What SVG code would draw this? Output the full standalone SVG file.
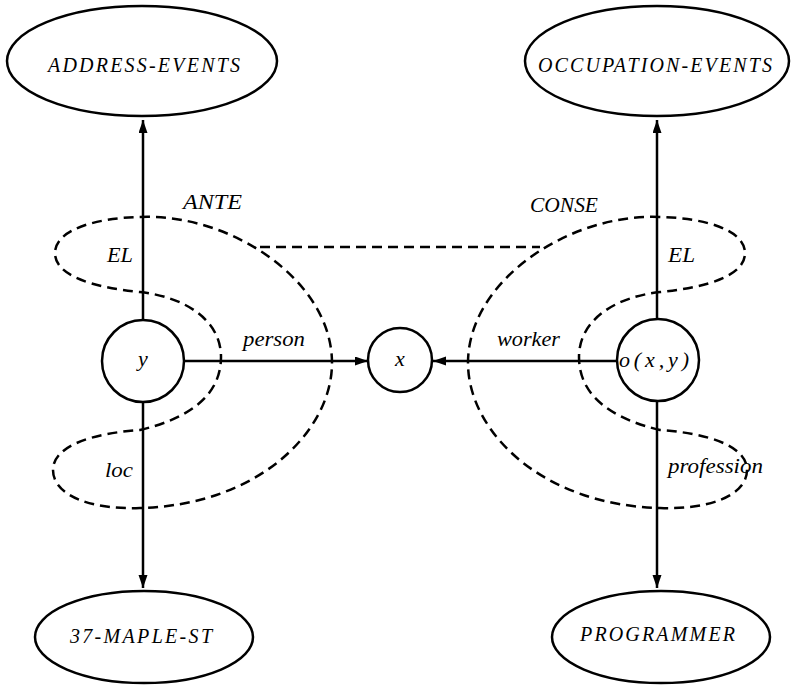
<svg xmlns="http://www.w3.org/2000/svg" width="792" height="687" viewBox="0 0 792 687">
  <style>
    .node { fill: #fff; stroke: #000; stroke-width: 2.5; }
    .edge { fill: none; stroke: #000; stroke-width: 2.5; }
    .scope { fill: none; stroke: #000; stroke-width: 2.5; stroke-dasharray: 10 6; }
    text { font-family: "Liberation Serif", "Times New Roman", serif; font-style: italic; fill: #000; }
    .big { font-size: 20px; }
    .lbl { font-size: 22px; }
  </style>
  <defs>
    <marker id="arrow" markerUnits="userSpaceOnUse" markerWidth="14" markerHeight="10" refX="13" refY="4.5" orient="auto">
      <path d="M0,0 L13,4.5 L0,9 Z" fill="#000"/>
    </marker>
  </defs>

  <!-- connectors -->
  <g id="connectors">
    <path class="edge" d="M143,320 L143,120" marker-end="url(#arrow)"/>
    <path class="edge" d="M143,402 L143,588" marker-end="url(#arrow)"/>
    <path class="edge" d="M184,361 L368,361" marker-end="url(#arrow)"/>
    <path class="edge" d="M616,361 L433,361" marker-end="url(#arrow)"/>
    <path class="edge" d="M657,319 L657,120" marker-end="url(#arrow)"/>
    <path class="edge" d="M657,401 L657,588" marker-end="url(#arrow)"/>
    <text class="lbl" x="243" y="346" textLength="62" lengthAdjust="spacingAndGlyphs">person</text>
    <text class="lbl" x="497" y="346" textLength="63" lengthAdjust="spacingAndGlyphs">worker</text>
    <text class="lbl" x="107" y="262" textLength="26" lengthAdjust="spacingAndGlyphs">EL</text>
    <text class="lbl" x="105" y="477" textLength="28" lengthAdjust="spacingAndGlyphs">loc</text>
    <text class="lbl" x="668" y="262" textLength="27" lengthAdjust="spacingAndGlyphs">EL</text>
    <text class="lbl" x="668" y="473" textLength="95" lengthAdjust="spacingAndGlyphs">profession</text>
  </g>

  <!-- dashed scope outlines -->
  <g id="ante">
    <path id="scope-shape" class="scope" d="M140,217 C230,213 332,280 332,363 C332,430 260,505 140,508 C90,510 53,495 53,470 C53,445 95,433 140,430 C190,418 221,395 221,357 C221,320 185,297 140,292 C90,287 55,275 55,253 C55,230 95,218 140,217 Z"/>
    <text class="lbl" x="183" y="209" textLength="59" lengthAdjust="spacingAndGlyphs">ANTE</text>
  </g>
  <g id="conse">
    <use href="#scope-shape" transform="translate(800,0) scale(-1,1)"/>
    <text class="lbl" x="530" y="212" textLength="68" lengthAdjust="spacingAndGlyphs">CONSE</text>
  </g>
  <g id="ante-conse-link">
    <path class="scope" d="M260,247 L540,247"/>
  </g>

  <!-- nodes -->
  <g id="address-events">
    <ellipse class="node" cx="142" cy="61" rx="135" ry="55"/>
    <text class="big" x="48" y="72" textLength="192" lengthAdjust="spacing">ADDRESS-EVENTS</text>
  </g>
  <g id="occupation-events">
    <ellipse class="node" cx="657" cy="61" rx="132" ry="55"/>
    <text class="big" x="538" y="72" textLength="234" lengthAdjust="spacing">OCCUPATION-EVENTS</text>
  </g>
  <g id="maple-st">
    <ellipse class="node" cx="144" cy="637" rx="109" ry="46"/>
    <text class="big" x="70" y="643" textLength="142" lengthAdjust="spacing">37-MAPLE-ST</text>
  </g>
  <g id="programmer">
    <ellipse class="node" cx="661" cy="637" rx="109" ry="46"/>
    <text class="big" x="580" y="641" textLength="155" lengthAdjust="spacing">PROGRAMMER</text>
  </g>
  <g id="node-y">
    <circle class="node" cx="143" cy="361" r="41"/>
    <text class="lbl" x="143" y="366" text-anchor="middle">y</text>
  </g>
  <g id="node-x">
    <circle class="node" cx="400" cy="360" r="32"/>
    <text class="lbl" x="400" y="366" text-anchor="middle">x</text>
  </g>
  <g id="node-o">
    <circle class="node" cx="658" cy="360" r="41"/>
    <text class="lbl" x="619" y="367" textLength="70" lengthAdjust="spacing">o(x,y)</text>
  </g>
</svg>
